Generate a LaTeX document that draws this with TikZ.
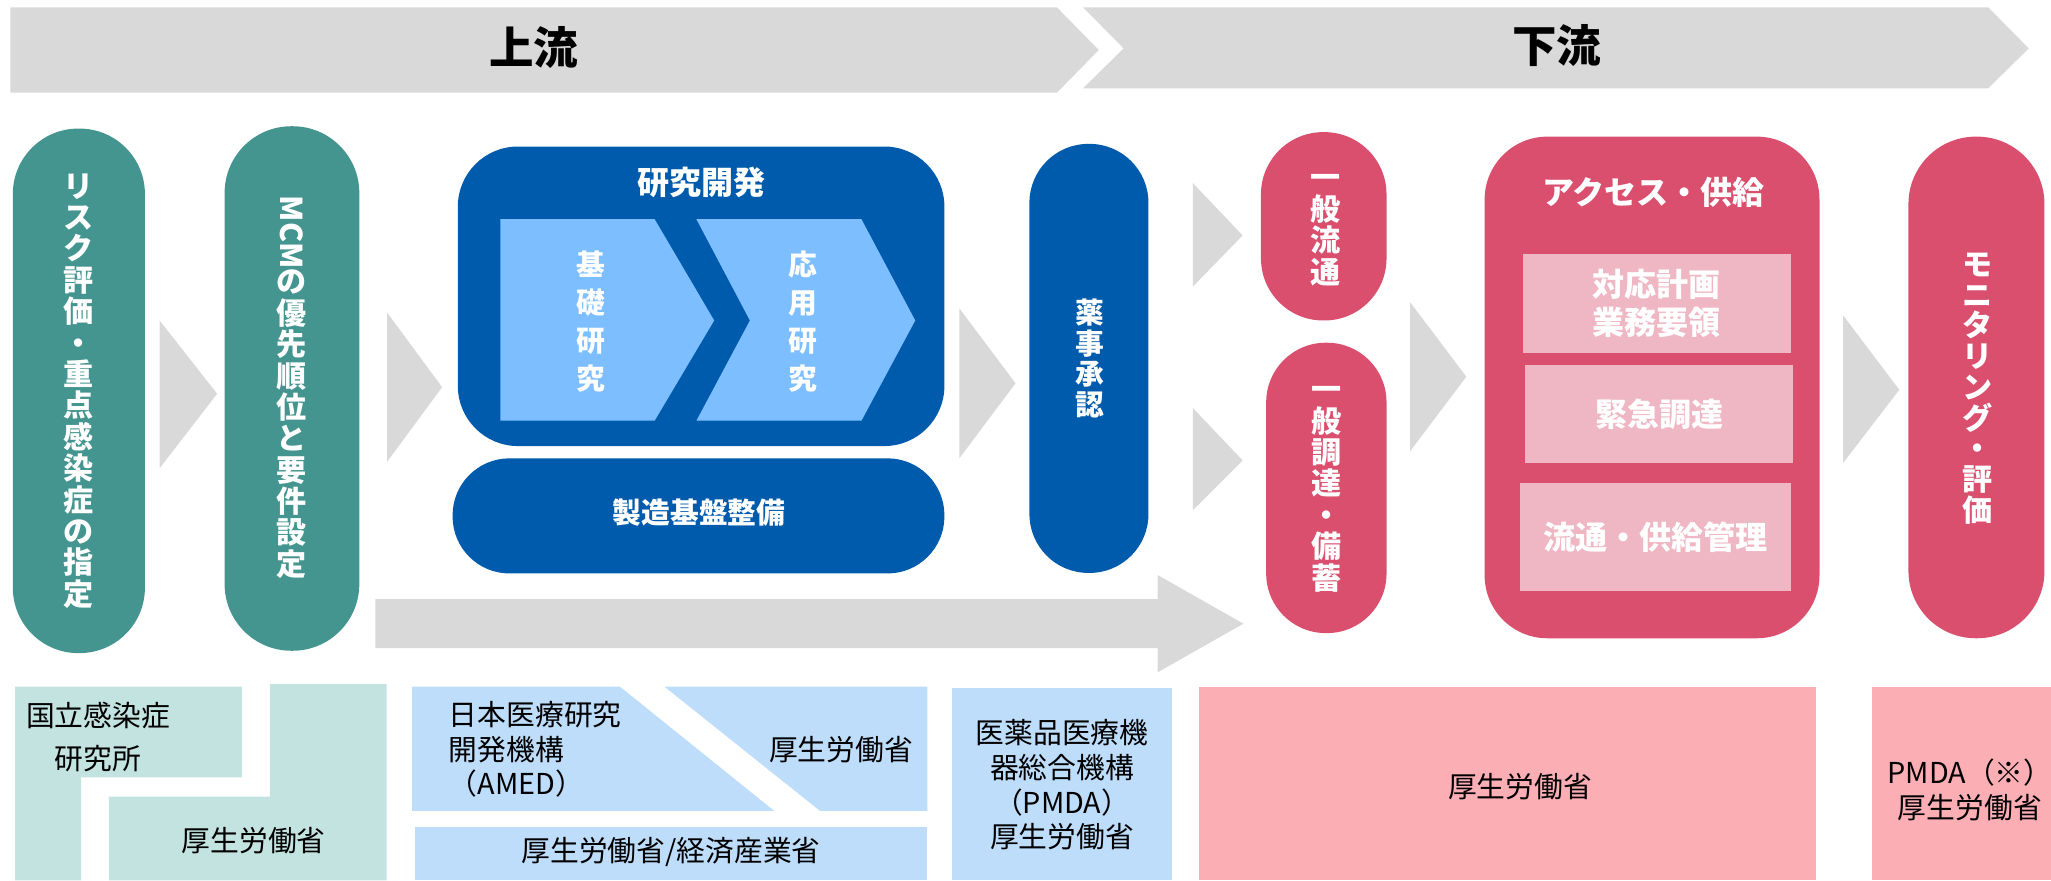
\documentclass[tikz,border=0pt]{standalone}
\usepackage{fontspec}
\usepackage{graphicx}
\setmainfont{Noto Sans CJK JP}
\definecolor{cGray}{HTML}{D9D9D9}
\definecolor{cTeal}{HTML}{44958F}
\definecolor{cBlue}{HTML}{005BAC}
\definecolor{cLBlue}{HTML}{7CBEFF}
\definecolor{cPink}{HTML}{DA4E6E}
\definecolor{cLPink}{HTML}{EFB6C3}
\definecolor{bTeal}{HTML}{C3E3E1}
\definecolor{bBlue}{HTML}{BDDDFB}
\definecolor{bPink}{HTML}{FBAFB5}
\tikzset{
  hdr/.style={font=\bfseries\fontsize{34}{36}\selectfont, text=black, inner sep=0pt},
  vtxt/.style={font=\bfseries\fontsize{23}{24}\selectfont, text=white, align=center, inner sep=0pt},
  wtxt/.style={font=\bfseries\fontsize{22}{29}\selectfont, text=white, align=center, inner sep=0pt},
  ttxt/.style={font=\bfseries\fontsize{24.5}{29}\selectfont, text=white, align=center, inner sep=0pt},
  btxt/.style={font=\fontsize{22}{26.5}\selectfont, text=black, align=center, inner sep=0pt},
  tealpill/.style={fill=cTeal, inner sep=0pt},
  bluepill/.style={fill=cBlue, inner sep=0pt},
  pinkpill/.style={fill=cPink, inner sep=0pt},
  lpinkbox/.style={fill=cLPink, inner sep=0pt},
  grayarrow/.style={fill=cGray},
}
\begin{document}
\begin{tikzpicture}[x=1pt,y=-1pt]
\useasboundingbox (0,0) rectangle (1568,673);
% ---- top stage arrows
\fill[grayarrow] (8,5.6) -- (808,5.6) -- (840,38.2) -- (808,70.9) -- (8,70.9) -- cycle;
\fill[grayarrow] (828,5.6) -- (1520,5.6) -- (1551,37) -- (1520,67.5) -- (828,67.5) -- (859,37) -- cycle;
\node[hdr] (up) at (408,36) {上流};
\node[hdr] (down) at (1190,35) {下流};

% ---- teal pills
\node[tealpill, minimum width=101, minimum height=401, rounded corners=50] (p1) at (60.3,298.8) {};
\node[vtxt] (p1t) at (p1.center) {リ\\ス\\ク\\評\\価\\・\\重\\点\\感\\染\\症\\の\\指\\定};
\node[tealpill, minimum width=103, minimum height=401, rounded corners=51] (p2) at (223.2,297) {};
\node[vtxt] (p2t) at (223.2,296) {\rotatebox[origin=c]{-90}{MCM}\\の\\優\\先\\順\\位\\と\\要\\件\\設\\定};

\fill[grayarrow] (122,245) -- (166,301) -- (122,358) -- cycle;
\fill[grayarrow] (296,239) -- (338,296) -- (296,353) -- cycle;

% ---- research & development
\node[bluepill, minimum width=372, minimum height=229, rounded corners=46] (rd) at (536,226.5) {};
\node[ttxt] (rdt) at (536,139.5) {研究開発};
\fill[cLBlue] (382.6,167.6) -- (500.5,167.6) -- (546,245) -- (500.5,321.6) -- (382.6,321.6) -- cycle;
\fill[cLBlue] (532.4,167.6) -- (658.6,167.6) -- (699.7,245) -- (658.6,321.6) -- (532.4,321.6) -- (573.3,245) -- cycle;
\node[wtxt] (kiso) at (452,246) {基\\礎\\研\\究};
\node[wtxt] (oyo) at (614,246) {応\\用\\研\\究};
\node[bluepill, minimum width=376, minimum height=88, rounded corners=43.5] (mfg) at (534,394.4) {};
\node[wtxt] (mfgt) at (534.5,392) {製造基盤整備};

\fill[grayarrow] (733.4,235.7) -- (776.4,293) -- (733.4,350.4) -- cycle;

\node[bluepill, minimum width=91, minimum height=328, rounded corners=45] (appr) at (832.5,274) {};
\node[wtxt, font=\bfseries\fontsize{22}{23.6}\selectfont] (apprt) at (833,274) {薬\\事\\承\\認};

\fill[grayarrow] (912,140) -- (950,180) -- (912,219) -- cycle;
\fill[grayarrow] (912,312) -- (950,352) -- (912,390) -- cycle;
\fill[grayarrow] (287,458) -- (885,458) -- (885,439.6) -- (950.6,476.8) -- (885,514) -- (885,495.5) -- (287,495.5) -- cycle;

% ---- downstream pills
\node[pinkpill, minimum width=96, minimum height=144, rounded corners=47.5] (gen) at (1012,173) {};
\node[vtxt] (gent) at (1013,176) {一\\般\\流\\通};
\node[pinkpill, minimum width=92, minimum height=222, rounded corners=45.5] (proc) at (1014,373) {};
\node[vtxt] (proct) at (1014,374) {一\\般\\調\\達\\・\\備\\蓄};

\fill[grayarrow] (1078,231) -- (1121,288) -- (1078,345) -- cycle;

\node[pinkpill, minimum width=256, minimum height=383.5, rounded corners=48] (acc) at (1263,296.2) {};
\node[ttxt] (acct) at (1264,147) {アクセス・供給};
\node[lpinkbox, ttxt, minimum width=205, minimum height=76] (b1) at (1266.5,232) {対応計画\\業務要領};
\node[lpinkbox, ttxt, minimum width=205, minimum height=75] (b2) at (1268.5,316.5) {緊急調達};
\node[lpinkbox, ttxt, minimum width=207, minimum height=83] (b3) at (1265.5,410.5) {流通・供給管理};

\fill[grayarrow] (1409,241) -- (1452,298) -- (1409,354) -- cycle;

\node[pinkpill, minimum width=104, minimum height=383.5, rounded corners=51.5] (mon) at (1511,296.2) {};
\node[vtxt, font=\bfseries\fontsize{23}{23.5}\selectfont] (mont) at (1512,297) {モ\\ニ\\タ\\リ\\ン\\グ\\・\\評\\価};

% ---- bottom responsible bodies
\fill[bTeal] (11.5,525) -- (185,525) -- (185,594.3) -- (62,594.3) -- (62,673) -- (11.5,673) -- cycle;
\fill[bTeal] (206.4,523) -- (295.6,523) -- (295.6,673) -- (83.3,673) -- (83.3,609) -- (206.4,609) -- cycle;
\node[btxt, font=\fontsize{22}{33}\selectfont] (niid) at (75,563.5) {国立感染症\\研究所};
\node[btxt] (mhlw1) at (194,643) {厚生労働省};

\fill[bBlue] (315,525) -- (474,525) -- (592,620) -- (315,620) -- cycle;
\fill[bBlue] (508,525) -- (709,525) -- (709,620) -- (627,620) -- cycle;
\fill[bBlue] (317,632) rectangle (709,673);
\node[btxt, align=left, anchor=west] (amed) at (343,573) {日本医療研究\\開発機構\\（AMED）};
\node[btxt] (mhlw2) at (643,573) {厚生労働省};
\node[btxt] (meti) at (513,651) {厚生労働省/経済産業省};

\fill[bBlue] (728,526) rectangle (896,673);
\node[btxt] (pmda) at (812,600) {医薬品医療機\\器総合機構\\（PMDA）\\厚生労働省};

\fill[bPink] (917,525) rectangle (1388,673);
\node[btxt] (mhlw3) at (1162,601) {厚生労働省};
\fill[bPink] (1431,525) rectangle (1568,673);
\node[btxt] (pmda2) at (1506,604) {PMDA（※）\\厚生労働省};
\end{tikzpicture}
\end{document}
